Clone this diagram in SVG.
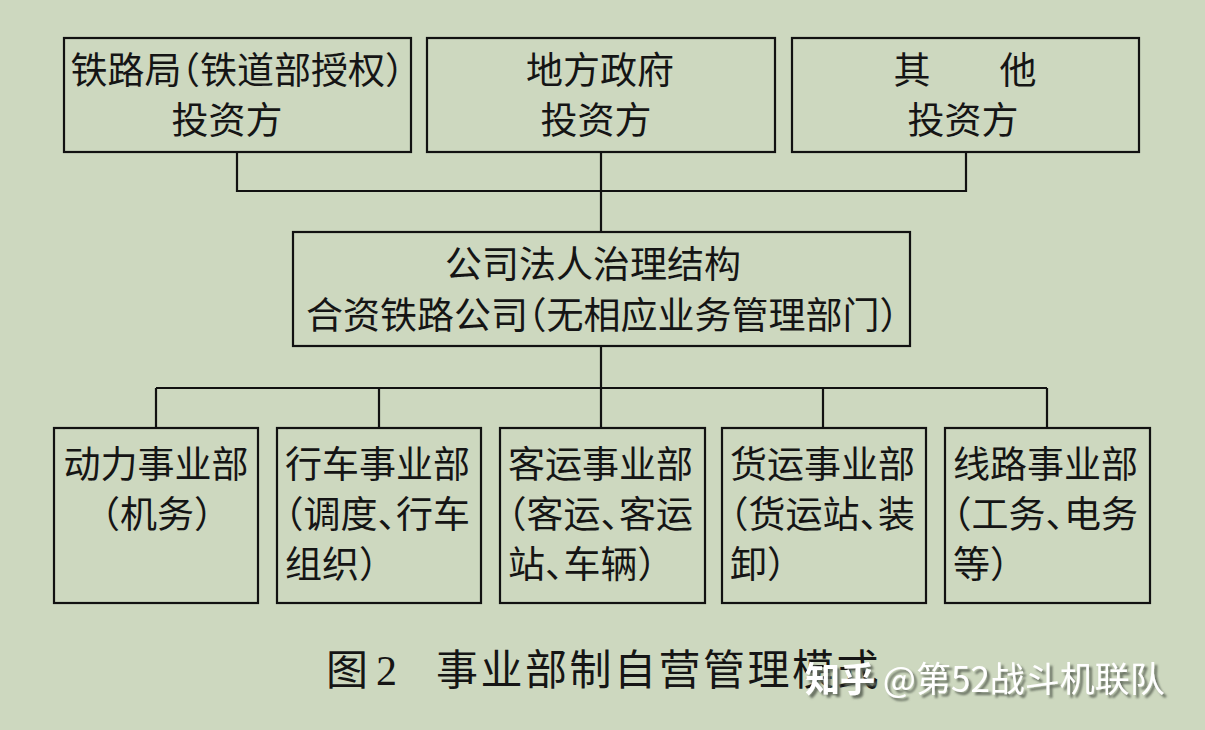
<svg xmlns="http://www.w3.org/2000/svg" width="1205" height="730" viewBox="0 0 1205 730">
<style>
.bg{fill:#cdd8bf}
.box{fill:none;stroke:#111;stroke-width:2.2}
.ln{fill:none;stroke:#111;stroke-width:2.2}
.t{font-family:"Liberation Serif","Noto Sans CJK SC",serif;font-size:37px;fill:#151515;font-feature-settings:"halt";}
.c{text-anchor:middle}
.cap{font-family:"Liberation Serif","Noto Sans CJK SC",serif;font-size:42px;fill:#151515;letter-spacing:2.5px;font-feature-settings:"halt";}
.wm{font-family:"Noto Sans CJK SC","Noto Sans",sans-serif;font-size:35px;fill:#ffffff;filter:url(#sh);}
</style>
<defs>
<filter id="sh" x="-10%" y="-30%" width="120%" height="160%">
<feDropShadow dx="3" dy="3" stdDeviation="1" flood-color="#5f665a" flood-opacity="0.9"/>
</filter>
</defs>
<rect class="bg" x="0" y="0" width="1205" height="730"/>
<g id="connectors">
<path class="ln" d="M237 152V191H966V152M601 152V232"/>
<path class="ln" d="M601 346V388M156 388H1047M156 388V428M379 388V428M601 388V428M823 388V428M1047 388V428"/>
</g>
<g id="n1">
<rect class="box" x="64" y="38" width="347" height="114"/>
<text class="t c" x="237" y="84">铁路局（铁道部授权）</text>
<text class="t c" x="227" y="134">投资方</text>
</g>
<g id="n2">
<rect class="box" x="427" y="38" width="348" height="114"/>
<text class="t c" x="600" y="84">地方政府</text>
<text class="t c" x="596" y="134">投资方</text>
</g>
<g id="n3">
<rect class="box" x="792" y="38" width="347" height="114"/>
<text class="t c" x="912" y="84">其</text>
<text class="t c" x="1018" y="84">他</text>
<text class="t c" x="963" y="134">投资方</text>
</g>
<g id="n4">
<rect class="box" x="293" y="232" width="617" height="114"/>
<text class="t c" x="593" y="278">公司法人治理结构</text>
<text class="t c" x="602" y="329">合资铁路公司（无相应业务管理部门）</text>
</g>
<g id="n5">
<rect class="box" x="54" y="428" width="204" height="175"/>
<text class="t c" x="156" y="478">动力事业部</text>
<text class="t c" x="157" y="528">（机务）</text>
</g>
<g id="n6">
<rect class="box" x="277" y="428" width="204" height="175"/>
<text class="t" x="285" y="478">行车事业部</text>
<text class="t" x="285" y="528">（调度、行车</text>
<text class="t" x="285" y="578">组织）</text>
</g>
<g id="n7">
<rect class="box" x="500" y="428" width="205" height="175"/>
<text class="t" x="508" y="478">客运事业部</text>
<text class="t" x="508" y="528">（客运、客运</text>
<text class="t" x="508" y="578">站、车辆）</text>
</g>
<g id="n8">
<rect class="box" x="722" y="428" width="204" height="175"/>
<text class="t" x="730" y="478">货运事业部</text>
<text class="t" x="730" y="528">（货运站、装</text>
<text class="t" x="730" y="578">卸）</text>
</g>
<g id="n9">
<rect class="box" x="945" y="428" width="205" height="175"/>
<text class="t" x="953" y="478">线路事业部</text>
<text class="t" x="953" y="528">（工务、电务</text>
<text class="t" x="953" y="578">等）</text>
</g>
<g id="caption">
<text class="cap" x="326" y="685">图<tspan x="376">2</tspan><tspan x="436">事业部制自营管理模式</tspan></text>
</g>
<g id="watermark">
<text class="wm" x="805" y="692"><tspan font-weight="bold">知乎</tspan> @第52战斗机联队</text>
</g>
</svg>
